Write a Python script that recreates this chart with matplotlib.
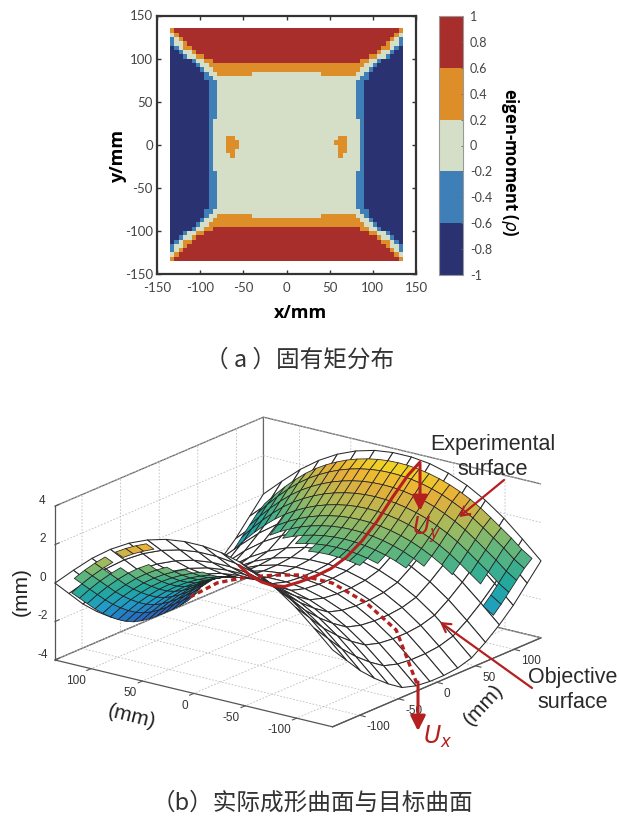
import numpy as np
import matplotlib
matplotlib.use("Agg")
import matplotlib.pyplot as plt
from matplotlib.colors import ListedColormap, BoundaryNorm, LinearSegmentedColormap, Normalize
from mpl_toolkits.mplot3d import proj3d
from mpl_toolkits.mplot3d.art3d import Poly3DCollection

plt.rcParams["axes.unicode_minus"] = False
W, H = 619, 816
SANS = ["Liberation Sans", "DejaVu Sans"]
CJK = ["Noto Sans CJK SC", "DejaVu Sans"]

# ---------- panel (a) data ----------
class_values = [-0.8, -0.4, 0.0, 0.4, 0.8]
class_colors = ["#2b3272", "#3f7fb8", "#d5dfc8", "#de8e28", "#a72e2b"]
class_edges = [-1, -0.6, -0.2, 0.2, 0.6, 1]
ticks_a = [-150, -100, -50, 0, 50, 100, 150]
cbar_ticks = [-1, -0.8, -0.6, -0.4, -0.2, 0, 0.2, 0.4, 0.6, 0.8, 1]
cbar_labels = ["-1", "-0.8", "-0.6", "-0.4", "-0.2", "0", "0.2", "0.4", "0.6", "0.8", "1"]
quadrant_rows = [
    "3" + "4" * 26, "23" + "4" * 25, "123" + "4" * 24, "1223" + "4" * 23,
    "01233" + "4" * 22, "001223" + "4" * 21, "00012233" + "4" * 19,
    "0000012233" + "4" * 17, "000000122" + "3" * 18, "0000000122" + "3" * 17,
    "00000000122" + "3" * 8 + "2" * 8, "0000000011" + "2" * 17,
] + ["000000000" + "11" + "2" * 16] * 9 + ["000000000" + "1" + "2" * 17] * 6
blob_cells = [(25, 13), (25, 14), (26, 13), (26, 14), (26, 15), (27, 13), (27, 14), (27, 15),
              (28, 13), (28, 14), (29, 14),
              (25, 39), (25, 40), (26, 38), (26, 39), (26, 40), (27, 39), (27, 40),
              (28, 39), (28, 40), (29, 39)]

# ---------- panel (b) data (profiles read along the two mid-lines) ----------
obj_nodes = [-135, -117, -99, -81, -63, -45, -27, -9, 9, 27, 45, 63, 81, 99, 117, 135]
obj_x_profile = [3.8, 2.95, 2.1, 1.4, 0.8, 0.3, 0.08, 0.0, 0.0, 0.08, 0.3, 0.8, 1.4, 2.1, 2.95, 3.8]
obj_y_profile = [-3.8, -2.9, -2.05, -1.35, -0.8, -0.4, -0.14, -0.02, -0.02, -0.14, -0.4, -0.8, -1.35, -2.05, -2.9, -3.8]
exp_nodes = list(range(-130, 131, 10))
exp_x_profile = [3.55, 3.1, 2.65, 2.2, 1.75, 1.35, 1.0, 0.68, 0.42, 0.22, 0.1, 0.03, 0.0, 0.0,
                 0.0, 0.03, 0.1, 0.22, 0.42, 0.68, 1.0, 1.35, 1.75, 2.2, 2.65, 3.1, 3.45]
exp_y_profile = [-3.3, -2.95, -2.5, -2.1, -1.7, -1.32, -1.0, -0.73, -0.5, -0.32, -0.18, -0.08, -0.02, 0.0,
                 -0.02, -0.08, -0.18, -0.32, -0.5, -0.73, -1.0, -1.32, -1.7, -2.15, -2.65, -3.2, -3.8]
# visible part of the experimental surface, one entry per row of cells
right_start = [90, 99, 92, 88, 80, 76, 66, 62, 55, 48, 44, 42, 42, 42, 44, 50, 53, 55, 60, 65, 72, 85, 85, 85, 85, 85]
left_start = [np.nan] * 16 + [-50, -70, -85, -93, -100, -105, -112, -117, -118, -120]
left_end = [np.nan] * 16 + [-40, -32, -24, -17, -10, -3, 5, 12, 20, 27]
stray_cells = [(24, 0), (23, 0), (22, 0), (20, 0), (19, 0), (18, 0), (0, 21)]
ux_y = [-135, -131, -115, -86, -53, -21, 1, 30, 59, 85]
ux_z = [-3.6, -3.1, -1.09, -0.06, 0.55, 0.56, 0.27, -0.2, -0.88, -1.94]
uy_x = [-98, -85, -70, -55, -40, -20, 0, 20, 40, 60, 80, 100, 120, 135]
uy_z = [2.2, 1.5, 0.9, 0.45, 0.15, 0.05, 0.0, 0.05, 0.3, 0.8, 1.5, 2.4, 3.2, 3.6]
ticks_xy = [-100, -50, 0, 50, 100]
ticks_z = [-4, -2, 0, 2, 4]

fig = plt.figure(figsize=(W / 100, H / 100), dpi=100, facecolor="white")

def fx(p): return p / W
def fy(p): return 1 - p / H

# ---------- panel (a) ----------
q = np.array([[int(c) for c in r] for r in quadrant_rows])
top = np.hstack([q, q[:, ::-1]])
cls = np.vstack([top, top[::-1]])
for r, c in blob_cells:
    cls[r, c] = 3
vals = np.array(class_values)[cls]
edges = np.linspace(135, -135, 55)
cmap_a = ListedColormap(class_colors)
norm_a = BoundaryNorm(class_edges, 5)
ax = fig.add_axes([fx(157), fy(274), (416 - 157) / W, (274 - 15.5) / H])
mesh = ax.pcolormesh(edges[::-1], edges, vals, cmap=cmap_a, norm=norm_a)
ax.set_xlim(-150, 150)
ax.set_ylim(-150, 150)
ax.set_xticks(ticks_a)
ax.set_yticks(ticks_a)
ax.tick_params(direction="in", top=True, right=True, length=3, width=1, color="#333333",
               labelsize=9.5, labelcolor="#444444")
ax.tick_params(axis="x", pad=6)
ax.tick_params(axis="y", pad=3)
for lab in ax.get_xticklabels() + ax.get_yticklabels():
    lab.set_family(["Lato", "DejaVu Sans"])
for s in ax.spines.values():
    s.set_linewidth(1.6)
    s.set_color("#333333")

cax = fig.add_axes([fx(438.5), fy(275), 24.5 / W, (275 - 16) / H])
cb = fig.colorbar(mesh, cax=cax, ticks=cbar_ticks, spacing="proportional")
cb.ax.set_yticklabels(cbar_labels)
cb.outline.set_edgecolor("#999999")
cb.ax.tick_params(direction="in", length=1.5, width=0.6, color="#666666", labelsize=9,
                  labelcolor="#444444", pad=5)
for lab in cb.ax.get_yticklabels():
    lab.set_family(["Lato", "DejaVu Sans"])

fig.text(fx(301), fy(313), "x/mm", ha="center", va="center", fontsize=13, fontweight="bold",
         family=["Open Sans", "DejaVu Sans"])
fig.text(fx(118), fy(155), "y/mm", ha="center", va="center", rotation=90, fontsize=13,
         fontweight="bold", family=["Open Sans", "DejaVu Sans"])
fig.text(fx(510), fy(162), "eigen-moment ($\\rho$)", ha="center", va="center", rotation=270,
         fontsize=12, fontweight="bold", family=["Open Sans", "DejaVu Sans"])
fig.text(fx(300), fy(360), "（ a ）固有矩分布", ha="center", va="center", fontsize=17,
         family=CJK, color="#333333", fontweight="light")
fig.text(fx(312), fy(803), "（b）实际成形曲面与目标曲面", ha="center", va="center", fontsize=17,
         family=CJK, color="#333333", fontweight="light")

# ---------- panel (b) ----------
ax3 = fig.add_axes([0, 0, 1, W / H], projection="3d")
ax3.computed_zorder = False
ax3.set_proj_type("ortho")
ax3.view_init(elev=18.7, azim=216.9)
ax3.set_box_aspect((1, 1, 0.468), zoom=1.0)
ax3.set_xlim(-135, 135)
ax3.set_ylim(-135, 135)
ax3.set_zlim(-4, 4)
ax3.patch.set_alpha(0)
ax3.set_xticks(ticks_xy)
ax3.set_yticks(ticks_xy)
ax3.set_zticks(ticks_z)
for axis in (ax3.xaxis, ax3.yaxis, ax3.zaxis):
    axis.set_pane_color((1, 1, 1, 1))
    axis.pane.set_edgecolor("#666666")
    axis.pane.set_linewidth(0.9)
    axis.line.set_color("#555555")
    axis.line.set_linewidth(0.9)
    axis._axinfo["grid"].update(color="#bdbdbd", linestyle=(0, (2, 2)), linewidth=0.6)
    axis.set_tick_params(labelsize=8.5, labelcolor="#333333", color="#555555", pad=-2)
    for lab in axis.get_ticklabels():
        lab.set_family(SANS)
for lab in ax3.xaxis.get_ticklabels():
    lab.set_horizontalalignment("left")
for lab in ax3.yaxis.get_ticklabels():
    lab.set_horizontalalignment("right")
for lab in ax3.zaxis.get_ticklabels():
    lab.set_verticalalignment("bottom")
for axis in (ax3.xaxis, ax3.yaxis):
    axis._axinfo["tick"].update(inward_factor=0.25, outward_factor=0.0)
ax3.zaxis._axinfo["tick"].update(inward_factor=0.0, outward_factor=0.25)

def quad(xs, ys, z, i, j):
    return [(xs[i], ys[j], z[i, j]), (xs[i + 1], ys[j], z[i + 1, j]),
            (xs[i + 1], ys[j + 1], z[i + 1, j + 1]), (xs[i], ys[j + 1], z[i, j + 1])]

ox = np.array(obj_nodes, float)
oz = np.array(obj_x_profile)[:, None] + np.array(obj_y_profile)[None, :]
obj_polys = [quad(ox, ox, oz, i, j) for i in range(len(ox) - 1) for j in range(len(ox) - 1)]
ax3.add_collection3d(Poly3DCollection(obj_polys, facecolor="white", edgecolor="#2a2a2a",
                                      linewidth=0.75, zorder=2))

ex = np.array(exp_nodes, float)
ez = np.array(exp_x_profile)[:, None] + np.array(exp_y_profile)[None, :]
parula = LinearSegmentedColormap.from_list("parula_like", [
    (0.00, "#2a5fc0"), (0.23, "#1f9cc8"), (0.40, "#22a89c"), (0.57, "#62b67c"),
    (0.70, "#a5ba5c"), (0.85, "#eaae38"), (1.00, "#f5e61e")])
norm_b = Normalize(-3.7, 3.7)
polys, colors = [], []
ecx = (ex[:-1] + ex[1:]) / 2
for j in range(26):
    for i in range(26):
        show = ecx[i] > right_start[j] or (left_start[j] < ecx[i] < left_end[j]) or (j, i) in stray_cells
        if show:
            polys.append(quad(ex, ex, ez, i, j))
            colors.append(parula(norm_b(ez[i:i + 2, j:j + 2].mean())))
ax3.add_collection3d(Poly3DCollection(polys, facecolors=colors, edgecolor="#222222",
                                      linewidth=0.55, zorder=3))
RED = "#b3201f"
ax3.plot([-26] * len(ux_y), ux_y, ux_z, color=RED, lw=2.4, ls=(0, (1.6, 1.1)), zorder=5)
ax3.plot(uy_x, [-17] * len(uy_x), uy_z, color=RED, lw=2.2, zorder=5)

# place the box so that its corners land where they are in the picture
def corner(x, y, z):
    M = ax3.get_proj()
    a, b, _ = proj3d.proj_transform(x, y, z, M)
    return ax3.transData.transform((a, b))

fig.canvas.draw()
p_l, p_r = corner(-135, 135, -4), corner(135, -135, -4)
scale = (541 - 55) / (p_r[0] - p_l[0])
ax3.set_box_aspect((1, 1, 0.468), zoom=scale)
fig.canvas.draw()
p_l = corner(-135, 135, -4)
dx, dy = (55 - p_l[0]) / W, ((H - 660) - p_l[1]) / H
ax3.set_position([dx, dy, 1, W / H])

# overlay annotations, in picture pixels
ov = fig.add_axes([0, 0, 1, 1], facecolor="none")
ov.set_xlim(0, W)
ov.set_ylim(H, 0)
ov.axis("off")
for (a, b) in [((418, 682), (418, 731)), ((420, 464), (420, 511))]:
    ov.annotate("", xy=b, xytext=a, arrowprops=dict(arrowstyle="-|>,head_length=0.9,head_width=0.45",
                                                     color=RED, lw=2.2, shrinkA=0, shrinkB=0))
for (a, b) in [((504, 480), (459, 517)), ((532, 688), (440, 622))]:
    ov.annotate("", xy=b, xytext=a, arrowprops=dict(arrowstyle="->,head_length=0.6,head_width=0.35",
                                                     color=RED, lw=1.6, shrinkA=0, shrinkB=0))
ov.text(438, 737, "$U_x$", color=RED, fontsize=17, ha="center", va="center")
ov.text(427, 530, "$U_y$", color=RED, fontsize=17, ha="center", va="center")
ov.text(493, 457, "Experimental\nsurface", ha="center", va="center", fontsize=15.5,
        family=SANS, color="#2a2a2a", linespacing=1.25)
ov.text(573, 690, "Objective\nsurface", ha="center", va="center", fontsize=15.5,
        family=SANS, color="#2a2a2a", linespacing=1.2)
ov.text(21, 592, "(mm)", rotation=90, ha="center", va="center", fontsize=15, family=SANS, color="#222222")
ov.text(132, 717, "(mm)", rotation=-14, ha="center", va="center", fontsize=15, family=SANS, color="#222222")
ov.text(483, 705, "(mm)", rotation=47, ha="center", va="center", fontsize=15, family=SANS, color="#222222")

fig.savefig("out.png", dpi=100)
